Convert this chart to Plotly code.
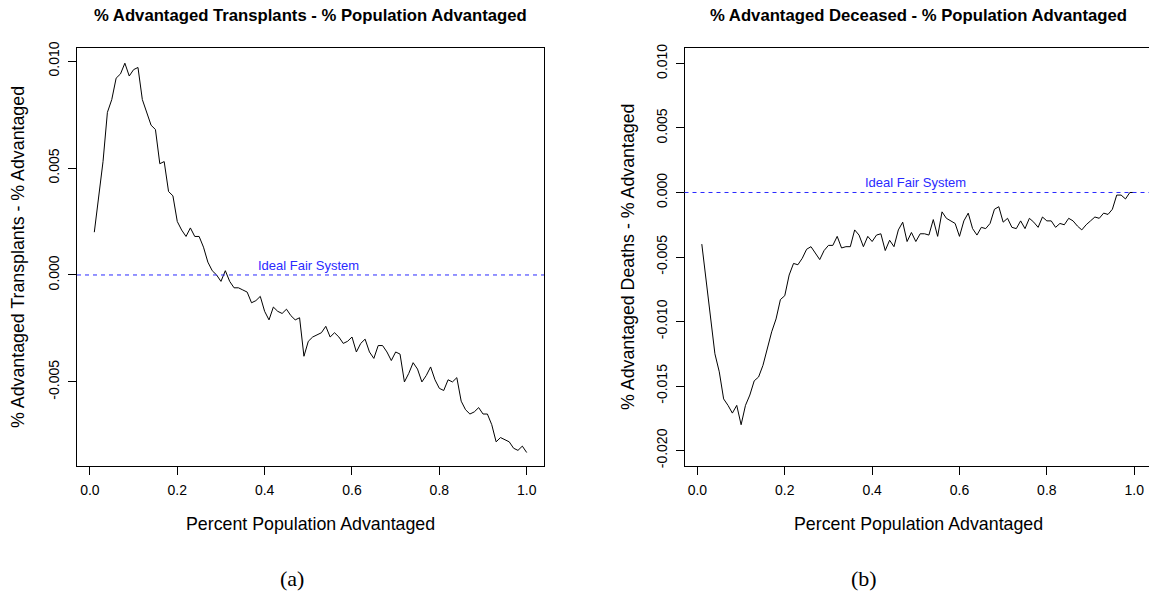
import plotly.graph_objects as go

W, H = 1149, 594

# ---------------- data ----------------
pct_advantaged = [round(0.01 * i, 2) for i in range(1, 101)]

transplants_diff = [
    0.0020, 0.0037, 0.0053, 0.0076, 0.0082, 0.0092, 0.0094, 0.0099, 0.0093, 0.0096,
    0.0097, 0.0082, 0.0076, 0.0070, 0.0068, 0.0052, 0.0053, 0.0039, 0.0037, 0.0025,
    0.0021, 0.0018, 0.0022, 0.0018, 0.0018, 0.0013, 0.0006, 0.0002, 0.0000, -0.0003,
    0.0002, -0.0003, -0.0006, -0.0006, -0.0007, -0.0008, -0.0013, -0.0012, -0.0010, -0.0017,
    -0.0021, -0.0015, -0.0017, -0.0018, -0.0016, -0.0019, -0.0021, -0.0020, -0.0038, -0.0031,
    -0.0029, -0.0028, -0.0027, -0.0024, -0.0029, -0.0027, -0.0029, -0.0032, -0.0031, -0.0029,
    -0.0036, -0.0032, -0.0030, -0.0036, -0.0039, -0.0033, -0.0033, -0.0036, -0.0040, -0.0036,
    -0.0037, -0.0050, -0.0046, -0.0041, -0.0044, -0.0050, -0.0047, -0.0043, -0.0049, -0.0053,
    -0.0054, -0.0049, -0.0050, -0.0048, -0.0059, -0.0063, -0.0065, -0.0064, -0.0062, -0.0065,
    -0.0065, -0.0070, -0.0078, -0.0076, -0.0077, -0.0078, -0.0081, -0.0082, -0.0080, -0.0083,
]

deceased_diff = [
    -0.0040, -0.0070, -0.0095, -0.0125, -0.0139, -0.0160, -0.0165, -0.0171, -0.0165, -0.0180,
    -0.0165, -0.0157, -0.0146, -0.0143, -0.0134, -0.0121, -0.0108, -0.0098, -0.0083, -0.0080,
    -0.0064, -0.0055, -0.0056, -0.0051, -0.0044, -0.0042, -0.0047, -0.0052, -0.0045, -0.0041,
    -0.0041, -0.0034, -0.0043, -0.0042, -0.0042, -0.0029, -0.0033, -0.0042, -0.0034, -0.0038,
    -0.0033, -0.0032, -0.0045, -0.0037, -0.0042, -0.0029, -0.0023, -0.0038, -0.0031, -0.0038,
    -0.0032, -0.0032, -0.0033, -0.0021, -0.0034, -0.0015, -0.0020, -0.0022, -0.0024, -0.0034,
    -0.0022, -0.0016, -0.0028, -0.0033, -0.0027, -0.0028, -0.0024, -0.0013, -0.0011, -0.0023,
    -0.0020, -0.0027, -0.0028, -0.0022, -0.0028, -0.0020, -0.0023, -0.0027, -0.0019, -0.0022,
    -0.0022, -0.0027, -0.0024, -0.0025, -0.0020, -0.0022, -0.0026, -0.0029, -0.0025, -0.0022,
    -0.0019, -0.0020, -0.0016, -0.0017, -0.0013, -0.0002, -0.0002, -0.0005, -0.0000, -0.0000,
]

ideal_value = 0.0
ideal_label = "Ideal Fair System"
ideal_label_x = 0.5

x_tickvals = [0.0, 0.2, 0.4, 0.6, 0.8, 1.0]
x_ticktext = ["0.0", "0.2", "0.4", "0.6", "0.8", "1.0"]
yA_tickvals = [0.010, 0.005, 0.0, -0.005]
yA_ticktext = ["0.010", "0.005", "0.000", "-0.005"]
yB_tickvals = [0.010, 0.005, 0.0, -0.005, -0.010, -0.015, -0.020]
yB_ticktext = ["0.010", "0.005", "0.000", "-0.005", "-0.010", "-0.015", "-0.020"]

titleA = "% Advantaged Transplants - % Population Advantaged"
titleB = "% Advantaged Deceased - % Population Advantaged"
ytitleA = "% Advantaged Transplants - % Advantaged"
ytitleB = "% Advantaged Deaths - % Advantaged"
xtitle = "Percent Population Advantaged"

# ---------------- layout helpers ----------------
def fx(px):
    return px / W

def fy(py):
    return 1 - py / H

SANS = "Liberation Sans, Arial, sans-serif"
SERIF = "Liberation Serif, Times New Roman, serif"
BLUE = "#2a2aff"

boxA = (77, 544)
boxB = (684.5, W)
box_top, box_bot = 48, 466

fig = go.Figure()
fig.add_trace(go.Scatter(x=pct_advantaged, y=transplants_diff, mode="lines",
                         line=dict(color="black", width=1), xaxis="x", yaxis="y",
                         showlegend=False, hoverinfo="skip"))
fig.add_trace(go.Scatter(x=pct_advantaged, y=deceased_diff, mode="lines",
                         line=dict(color="black", width=1), xaxis="x2", yaxis="y2",
                         showlegend=False, hoverinfo="skip"))

common_x = dict(showgrid=False, zeroline=False, showline=True, linecolor="black", linewidth=1,
                mirror=True, ticks="outside", ticklen=8, tickcolor="black", tickwidth=1,
                tickvals=x_tickvals, ticktext=x_ticktext, ticklabelstandoff=3,
                tickfont=dict(family=SANS, size=14, color="black"), automargin=False)
common_y = dict(showgrid=False, zeroline=False, showline=True, linecolor="black", linewidth=1,
                ticks="outside", ticklen=8, tickcolor="black", tickwidth=1, tickangle=-90,
                ticklabelstandoff=3,
                tickfont=dict(family=SANS, size=14, color="black"), automargin=False)

xA_range = [-0.0296, 1.0396]
px_per_unit = (boxA[1] - boxA[0]) / (xA_range[1] - xA_range[0])
xB_range = [-0.0296, -0.0296 + (boxB[1] - boxB[0]) / px_per_unit]

fig.update_layout(
    width=W, height=H, margin=dict(l=0, r=0, t=0, b=0),
    paper_bgcolor="white", plot_bgcolor="white",
    xaxis=dict(domain=[fx(boxA[0]), fx(boxA[1])], range=xA_range, anchor="y", **common_x),
    yaxis=dict(domain=[fy(box_bot), fy(box_top)], range=[-0.00893, 0.01061], anchor="x",
               mirror=True, tickvals=yA_tickvals, ticktext=yA_ticktext, **common_y),
    xaxis2=dict(domain=[fx(boxB[0]), 1.0], range=xB_range, anchor="y2", **common_x),
    yaxis2=dict(domain=[fy(box_bot), fy(box_top)], range=[-0.0212, 0.0112], anchor="x2",
                mirror=False, tickvals=yB_tickvals, ticktext=yB_ticktext, **common_y),
)

# ideal reference lines
for xr, yr in (("x", "y"), ("x2", "y2")):
    fig.add_shape(type="line", xref=f"{xr} domain", yref=yr, x0=0, x1=1,
                  y0=ideal_value, y1=ideal_value,
                  line=dict(color=BLUE, width=1, dash="4px,4px"))
    fig.add_annotation(x=ideal_label_x, y=ideal_value, xref=xr, yref=yr, text=ideal_label,
                       showarrow=False, yanchor="bottom", xanchor="center",
                       font=dict(family=SANS, size=13, color=BLUE))

# titles
for txt, cx in ((titleA, (boxA[0] + boxA[1]) / 2), (titleB, 918)):
    fig.add_annotation(text=f"<b>{txt}</b>", x=fx(cx), y=fy(16), xref="paper", yref="paper",
                       showarrow=False, xanchor="center", yanchor="middle",
                       font=dict(family=SANS, size=16.7, color="black"))

# axis titles
for txt, cx in ((xtitle, (boxA[0] + boxA[1]) / 2), (xtitle, 918)):
    fig.add_annotation(text=txt, x=fx(cx), y=fy(524), xref="paper", yref="paper",
                       showarrow=False, xanchor="center", yanchor="middle",
                       font=dict(family=SANS, size=17.8, color="black"))
for txt, cx in ((ytitleA, 18), (ytitleB, 628)):
    fig.add_annotation(text=txt, x=fx(cx), y=fy((box_top + box_bot) / 2), xref="paper",
                       yref="paper", showarrow=False, xanchor="center", yanchor="middle",
                       textangle=-90, font=dict(family=SANS, size=17.8, color="black"))

# panel labels
for txt, cx in (("(a)", 292), ("(b)", 864)):
    fig.add_annotation(text=txt, x=fx(cx), y=fy(578), xref="paper", yref="paper",
                       showarrow=False, xanchor="center", yanchor="middle",
                       font=dict(family=SERIF, size=22, color="black"))

fig.write_html("out.html")
